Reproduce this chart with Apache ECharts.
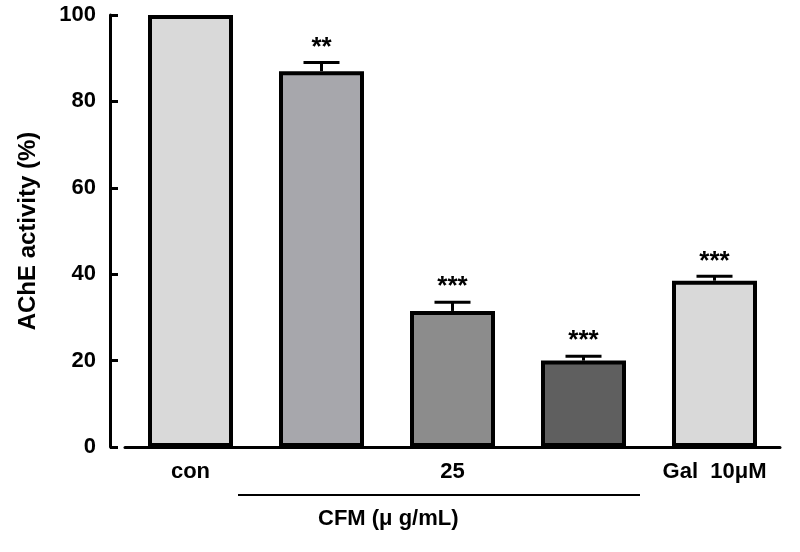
<!DOCTYPE html>
<html><head><meta charset="utf-8">
<script src="https://cdn.jsdelivr.net/npm/echarts@6/dist/echarts.min.js"></script>
<style>html,body{margin:0;background:#fff}#main{width:800px;height:552px}</style>
</head><body><div id="main"></div>
<script>
var categories = ['con', '10', '25', '50', 'Gal  10μM'];
var values = [100, 87, 31.5, 20, 38.5];
var errors = [0, 2, 2, 1, 1];
var stars = ['', '**', '***', '***', '***'];
var colors = ['#d9d9d9', '#a7a7ac', '#8c8c8c', '#5f5f5f', '#d9d9d9'];
var yTicks = [0, 20, 40, 60, 80, 100];

var myChart = echarts.init(document.getElementById('main'));
var font = 'Arial, Liberation Sans, sans-serif';

var option = {
    animation: false,
    grid: { left: 125, right: 20, top: 15, bottom: 105 },
    xAxis: {
        type: 'category',
        data: categories,
        axisLine: { lineStyle: { color: '#000', width: 3 } },
        axisTick: { show: false },
        axisLabel: { color: '#000', fontWeight: 'bold', fontSize: 22, fontFamily: font, margin: 14 }
    },
    yAxis: {
        type: 'value',
        min: 0, max: 100, interval: 20,
        offset: 15,
        name: 'AChE activity (%)',
        nameLocation: 'middle',
        nameGap: 70,
        nameTextStyle: { color: '#000', fontWeight: 'bold', fontSize: 24, fontFamily: font },
        axisLine: { show: true, lineStyle: { color: '#000', width: 3 } },
        axisTick: { show: true, inside: true, length: 8, lineStyle: { width: 3, color: '#000' } },
        axisLabel: { color: '#000', fontWeight: 'bold', fontSize: 22, fontFamily: font, margin: 14,
            formatter: function (v) { return yTicks.indexOf(v) >= 0 ? v : ''; } },
        splitLine: { show: false }
    },
    series: [{
        type: 'bar',
        barWidth: 85,
        data: values.map(function (v, i) {
            return { value: v, itemStyle: { color: colors[i], borderColor: '#000', borderWidth: 4 } };
        })
    }, {
        type: 'custom',
        data: values.map(function (v, i) { return [i, v, errors[i]]; }),
        renderItem: function (params, api) {
            var x = api.value(0), v = api.value(1), e = api.value(2);
            var top = api.coord([x, v + e]);
            var base = api.coord([x, v]);
            var s = stars[params.dataIndex];
            var kids = [];
            if (e > 0) {
                kids.push({ type: 'line', shape: { x1: top[0], y1: top[1], x2: top[0], y2: base[1] }, style: { stroke: '#000', lineWidth: 3 } });
                kids.push({ type: 'line', shape: { x1: top[0] - 18, y1: top[1], x2: top[0] + 18, y2: top[1] }, style: { stroke: '#000', lineWidth: 3 } });
            }
            if (s) {
                kids.push({ type: 'text', style: { text: s, x: top[0], y: top[1] - 2, align: 'center', verticalAlign: 'bottom',
                    font: 'bold 26px ' + font, fill: '#000' } });
            }
            return { type: 'group', children: kids };
        },
        z: 5
    }],
    graphic: [
        { type: 'line', shape: { x1: 238, y1: 495, x2: 640, y2: 495 }, style: { stroke: '#000', lineWidth: 2 } },
        { type: 'text', left: 318, top: 508, style: { text: 'CFM (μ g/mL)', font: 'bold 22px ' + font, fill: '#000' } }
    ]
};

option && myChart.setOption(option);
</script></body></html>
